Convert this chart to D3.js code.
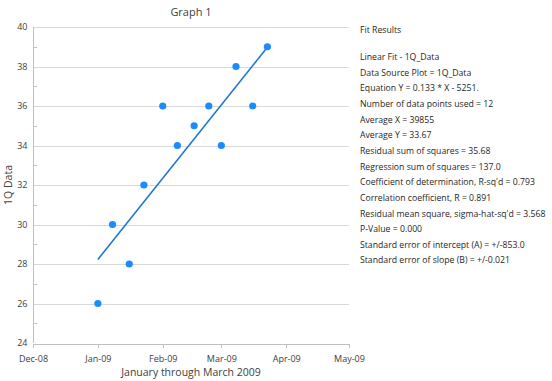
<!DOCTYPE html>
<html>
<head>
<meta charset="utf-8">
<script src="https://cdn.jsdelivr.net/npm/d3@7"></script>
<style>
body { margin: 0; background: #fff; font-family: "Open Sans", sans-serif; }
.grid line { stroke: #d9d9d9; shape-rendering: crispEdges; }
.axis path, .axis line { stroke: #bfbfbf; shape-rendering: crispEdges; }
.axis text { fill: #404040; font-size: 9px; font-family: "Open Sans", sans-serif; }
.label { fill: #404040; font-size: 10.5px; }
.fit text { fill: #262626; font-size: 8.7px; }
</style>
</head>
<body>
<script>
// observation dates (4 per month) and values
var dates = ["2009-01-01","2009-01-08","2009-01-16","2009-01-23",
             "2009-02-01","2009-02-08","2009-02-16","2009-02-23",
             "2009-03-01","2009-03-08","2009-03-16","2009-03-23"];
var values = [26, 30, 28, 32, 36, 34, 35, 36, 34, 38, 36, 39];
var yTicks = [24, 26, 28, 30, 32, 34, 36, 38, 40];
var monthTicks = ["2008-12-01","2009-01-01","2009-02-01","2009-03-01","2009-04-01","2009-05-01"];
var fitLines = [
  "Linear Fit - 1Q_Data",
  "Data Source Plot = 1Q_Data",
  "Equation Y = 0.133 * X - 5251.",
  "Number of data points used = 12",
  "Average X = 39855",
  "Average Y = 33.67",
  "Residual sum of squares = 35.68",
  "Regression sum of squares = 137.0",
  "Coefficient of determination, R-sq'd = 0.793",
  "Correlation coefficient, R = 0.891",
  "Residual mean square, sigma-hat-sq'd = 3.568",
  "P-Value = 0.000",
  "Standard error of intercept (A) = +/-853.0",
  "Standard error of slope (B) = +/-0.021"
];

var parse = d3.timeParse("%Y-%m-%d");
var data = dates.map(function(d, i) { return {x: parse(d), y: values[i]}; });

var W = 552, H = 381,
    pl = 33, pr = 349, pt = 27, pb = 343;

var x = d3.scaleTime().domain([parse(monthTicks[0]), parse(monthTicks[monthTicks.length - 1])]).range([pl, pr]),
    y = d3.scaleLinear().domain([24, 40]).range([pb, pt]);

var svg = d3.select("body").append("svg")
    .attr("width", W)
    .attr("height", H);

// gridlines
svg.append("g").attr("class", "grid")
  .selectAll("line")
    .data(yTicks.slice(1))
  .enter().append("line")
    .attr("x1", pl).attr("x2", pr)
    .attr("y1", function(d) { return Math.round(y(d)) + 0.5; })
    .attr("y2", function(d) { return Math.round(y(d)) + 0.5; });

// y axis with minor ticks
var yAxis = svg.append("g").attr("class", "axis")
    .attr("transform", "translate(" + (pl + 0.5) + ",0)")
    .call(d3.axisLeft(y).tickValues(yTicks).tickSize(0).tickPadding(6));
yAxis.select(".domain").remove();
yAxis.append("line").attr("x1", 0).attr("x2", 0).attr("y1", pt).attr("y2", pb);
yAxis.selectAll("line.minor")
    .data(d3.range(25, 40, 2))
  .enter().append("line")
    .attr("class", "minor")
    .attr("x1", 0).attr("x2", 3)
    .attr("y1", function(d) { return Math.round(y(d)) + 0.5; })
    .attr("y2", function(d) { return Math.round(y(d)) + 0.5; });

// x axis
svg.append("g").attr("class", "axis")
    .attr("transform", "translate(0," + (pb + 0.5) + ")")
    .call(d3.axisBottom(x).tickValues(monthTicks.map(parse))
      .tickFormat(d3.timeFormat("%b-%y")).tickSize(4).tickSizeOuter(0).tickPadding(8));

// regression line (least squares from the data)
var t = data.map(function(d) { return +d.x; }),
    mx = d3.mean(t), my = d3.mean(values),
    sxy = d3.sum(t, function(v, i) { return (v - mx) * (values[i] - my); }),
    sxx = d3.sum(t, function(v) { return (v - mx) * (v - mx); }),
    slope = sxy / sxx;
var ends = [d3.min(t), d3.max(t)];

svg.append("path")
    .datum(ends)
    .attr("fill", "none")
    .attr("stroke", "#1f77d4")
    .attr("stroke-width", 1.6)
    .attr("d", d3.line()
      .x(function(v) { return x(new Date(v)); })
      .y(function(v) { return y(my + slope * (v - mx)); }));

// points
svg.append("g").selectAll("circle")
    .data(data)
  .enter().append("circle")
    .attr("cx", function(d) { return x(d.x); })
    .attr("cy", function(d) { return y(d.y); })
    .attr("r", 3.6)
    .attr("fill", "#1a8cff");

// titles
svg.append("text").attr("class", "label")
    .attr("x", 191).attr("y", 16)
    .attr("text-anchor", "middle")
    .style("font-size", "11px")
    .text("Graph 1");

svg.append("text").attr("class", "label")
    .attr("x", 191).attr("y", 376)
    .attr("text-anchor", "middle")
    .text("January through March 2009");

svg.append("text").attr("class", "label")
    .attr("transform", "translate(12,185) rotate(-90)")
    .attr("text-anchor", "middle")
    .text("1Q Data");

// fit results panel
var fit = svg.append("g").attr("class", "fit");
fit.append("text").attr("x", 360).attr("y", 33).text("Fit Results");
fit.selectAll("text.row")
    .data(fitLines)
  .enter().append("text")
    .attr("class", "row")
    .attr("x", 360)
    .attr("y", function(d, i) { return 60 + i * 15.65; })
    .text(function(d) { return d; });
</script>
</body>
</html>
